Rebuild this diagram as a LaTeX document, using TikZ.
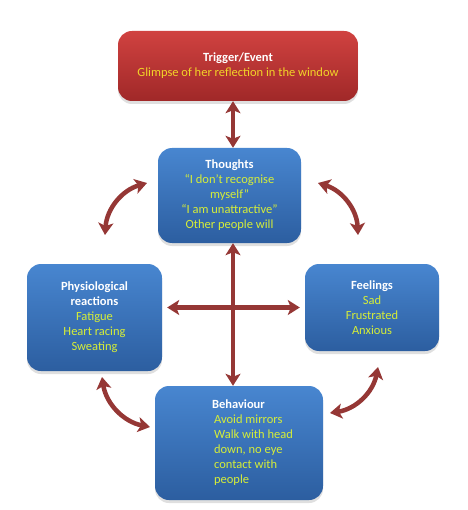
\documentclass[tikz,border=0pt]{standalone}
\usepackage{fontspec}
\setmainfont{Carlito}
\usetikzlibrary{arrows.meta,shadows}
\definecolor{arrowred}{RGB}{149,55,53}
\definecolor{redtop}{RGB}{208,66,64}
\definecolor{redbot}{RGB}{160,40,40}
\definecolor{bluetop}{RGB}{72,134,208}
\definecolor{bluebot}{RGB}{44,94,160}
\definecolor{redtxt}{RGB}{242,212,40}
\definecolor{bluetxt}{RGB}{214,238,56}
\newcommand{\boxtitle}[1]{\textcolor{white}{\bfseries #1}}
\begin{document}
\begin{tikzpicture}[x=1pt, y=-1pt,
    card/.style={rounded corners=14, align=center, inner sep=0,
        font=\fontsize{12.5}{15}\selectfont,
        drop shadow={opacity=0.25, shadow xshift=0, shadow yshift=3}},
    redcard/.style={card, shading=axis, top color=redtop, bottom color=redbot, text=redtxt},
    bluecard/.style={card, shading=axis, top color=bluetop, bottom color=bluebot, text=bluetxt},
    arr/.style={draw=arrowred, line width=4.5,
        {Stealth[length=12,width=15,inset=3]}-{Stealth[length=12,width=15,inset=3]}}]
    \useasboundingbox (0,0) rectangle (467,510);

    % 触发事件
    \node[redcard, minimum width=240, minimum height=70] (trig) at (238,66)
        {\boxtitle{Trigger/Event}\\ Glimpse of her reflection in the window};

    % 想法
    \node[bluecard, minimum width=143, minimum height=95] (thou) at (229.5,195.5)
        {\boxtitle{Thoughts}\\ “I don’t recognise\\ myself”\\ “I am unattractive”\\ Other people will};

    % 生理反应
    \node[bluecard, minimum width=135, minimum height=107] (phys) at (94.5,317.5)
        {\boxtitle{Physiological}\\ \boxtitle{reactions}\\ Fatigue\\ Heart racing\\ Sweating};

    % 感受
    \node[bluecard, minimum width=134, minimum height=87] (feel) at (372,307.5)
        {\boxtitle{Feelings}\\ Sad\\ Frustrated\\ Anxious};

    % 行为 (文字左对齐)
    \node[bluecard, minimum width=168, minimum height=114] (beh) at (239,443) {};
    \node[anchor=west, align=left, inner sep=0, text=bluetxt,
        font=\fontsize{12.5}{15}\selectfont] (behtxt) at ([xshift=57]beh.west)
        {\boxtitle{Behaviour}\\ \,Avoid mirrors\\ \,Walk with head\\ \,down, no eye\\ \,contact with\\ \,people};

    % 中轴
    \coordinate (cx) at (233,0);

    % 直箭头
    \draw[arr] (trig.south -| cx) -- (thou.north -| cx);
    \draw[arr] (thou.south -| cx) -- (beh.north -| cx);
    \draw[arr] ([xshift=5]phys.east |- feel.west) -- ([xshift=-5]feel.west);

    % 弯箭头的端点
    \coordinate (tl1) at (147,183);
    \coordinate (tl2) at (105,235);
    \coordinate (tr1) at (318,183);
    \coordinate (tr2) at (358,235);
    \coordinate (bl1) at (102,377);
    \coordinate (bl2) at (150,427);
    \coordinate (br1) at (330,413);
    \coordinate (br2) at (378,367);

    % 弯箭头
    \draw[arr] (tl1) to[bend right=35] (tl2);
    \draw[arr] (tr1) to[bend left=35] (tr2);
    \draw[arr] (bl1) to[bend right=35] (bl2);
    \draw[arr] (br1) to[bend right=35] (br2);

\end{tikzpicture}
\end{document}
